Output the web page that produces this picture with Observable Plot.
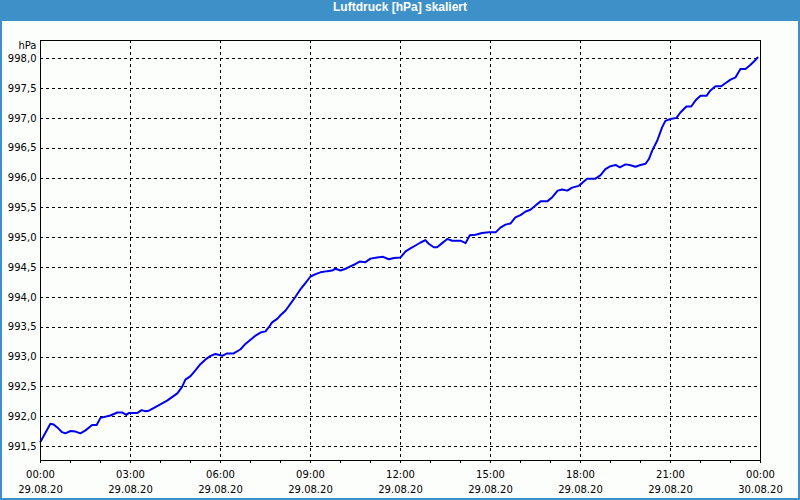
<!DOCTYPE html>
<html>
<head>
<meta charset="utf-8">
<script src="https://cdn.jsdelivr.net/npm/d3@7"></script>
<script src="https://cdn.jsdelivr.net/npm/@observablehq/plot@0.6"></script>
<style>
  html, body { margin: 0; padding: 0; background: #ffffff; }
  #win { width: 800px; height: 500px; box-sizing: border-box; border: 2px solid #3d91c8; border-top: none; background: #fcfefc; overflow: hidden; }
  #title { height: 21px; line-height: 21px; background: #3d91c8; color: #ffffff; text-align: center; font: bold 12px "Liberation Sans", Arial, sans-serif; margin: 0 -2px; }
  #chart svg { display: block; }
</style>
</head>
<body>
<div id="win">
  <div id="title">Luftdruck [hPa] skaliert</div>
  <div id="chart"></div>
</div>
<script>
// hours since 29.08.20 00:00
const hours = [0.00,0.33,0.44,0.56,0.72,0.83,1.00,1.17,1.33,1.50,1.72,1.87,2.00,2.33,2.56,2.72,2.86,2.94,3.22,3.37,3.50,3.61,3.83,4.22,4.56,4.72,4.83,5.00,5.17,5.33,5.50,5.67,5.83,6.06,6.22,6.44,6.67,6.83,7.00,7.17,7.33,7.50,7.61,7.72,7.89,8.00,8.17,8.33,8.50,8.67,8.83,9.00,9.17,9.33,9.56,9.72,9.83,10.00,10.17,10.33,10.50,10.64,10.83,11.00,11.22,11.42,11.61,11.78,12.00,12.17,12.33,12.50,12.67,12.83,12.94,13.11,13.22,13.39,13.56,13.72,14.00,14.17,14.31,14.50,14.72,14.94,15.17,15.33,15.50,15.67,15.83,16.00,16.17,16.33,16.50,16.67,16.89,17.06,17.24,17.39,17.56,17.72,17.94,18.06,18.22,18.50,18.67,18.83,19.00,19.17,19.31,19.50,19.64,19.83,20.00,20.17,20.28,20.39,20.56,20.72,20.83,21.00,21.20,21.33,21.53,21.69,21.83,22.00,22.20,22.33,22.50,22.69,22.83,23.00,23.17,23.33,23.50,23.67,23.83,23.90];
const hPa = [991.58,991.88,991.87,991.82,991.74,991.72,991.76,991.75,991.72,991.77,991.86,991.86,991.98,992.02,992.07,992.07,992.03,992.06,992.06,992.11,992.09,992.10,992.16,992.27,992.39,992.50,992.62,992.68,992.78,992.88,992.96,993.02,993.05,993.02,993.06,993.06,993.13,993.22,993.29,993.36,993.41,993.43,993.50,993.58,993.64,993.70,993.78,993.89,994.01,994.14,994.24,994.35,994.39,994.42,994.44,994.45,994.48,994.45,994.48,994.52,994.56,994.60,994.59,994.65,994.67,994.68,994.64,994.66,994.67,994.77,994.82,994.87,994.92,994.96,994.90,994.84,994.84,994.91,994.98,994.95,994.95,994.91,995.04,995.05,995.08,995.09,995.09,995.17,995.22,995.24,995.34,995.38,995.44,995.47,995.54,995.61,995.61,995.68,995.79,995.81,995.79,995.84,995.87,995.92,995.99,995.99,996.05,996.15,996.20,996.22,996.18,996.23,996.22,996.19,996.22,996.24,996.32,996.46,996.63,996.85,996.96,996.99,997.01,997.10,997.20,997.20,997.30,997.38,997.38,997.47,997.54,997.54,997.59,997.65,997.69,997.83,997.83,997.90,997.98,998.02];
const yTicks = [991.5,992.0,992.5,993.0,993.5,994.0,994.5,995.0,995.5,996.0,996.5,997.0,997.5,998.0];
const yDomain = [991.265, 998.307];
const yUnit = "hPa";
const majorHours = [0,3,6,9,12,15,18,21,24];
const minorHours = [0,1,2,3,4,5,6,7,8,9,10,11,12,13,14,15,16,17,18,19,20,21,22,23,24];

const t0 = Date.UTC(2020, 7, 29, 0, 0);
const toDate = h => new Date(t0 + h * 3600000);
const data = hours.map((h, i) => ({t: toDate(h), v: hPa[i]}));
const majorDates = majorHours.map(toDate);
const minorDates = minorHours.map(toDate);
const fmtTime = d3.utcFormat("%H:%M");
const fmtDate = d3.utcFormat("%d.%m.%y");

const plot = Plot.plot({
  width: 796,
  height: 477,
  marginLeft: 38,
  marginRight: 38,
  marginTop: 19,
  marginBottom: 38,
  style: {fontFamily: "'DejaVu Sans', sans-serif", fontSize: "10px", color: "#000", background: "transparent"},
  x: {type: "utc", domain: [toDate(0), toDate(24)]},
  y: {domain: yDomain},
  marks: [
    Plot.gridY(yTicks, {stroke: "#000", strokeOpacity: 1, strokeDasharray: "3,3", shapeRendering: "crispEdges"}),
    Plot.gridX(majorDates.slice(1, -1), {stroke: "#000", strokeOpacity: 1, strokeDasharray: "3,3", shapeRendering: "crispEdges"}),
    Plot.axisY(yTicks, {tickSize: 0, tickPadding: 4, tickFormat: d => d.toFixed(1).replace(".", ","), label: null}),
    Plot.axisX(minorDates, {tickSize: 3, tickFormat: () => "", label: null}),
    Plot.axisX(majorDates, {tickSize: 0, tickPadding: 10, tickFormat: fmtTime, label: null}),
    Plot.axisX(majorDates, {tickSize: 0, tickPadding: 25, tickFormat: fmtDate, label: null}),
    Plot.text([yUnit], {frameAnchor: "top-left", textAnchor: "end", lineAnchor: "middle", dx: -4, dy: 5}),
    Plot.lineY(data, {x: "t", y: "v", stroke: "#0000ee", strokeWidth: 2}),
    Plot.frame({stroke: "#000", shapeRendering: "crispEdges"})
  ]
});
document.getElementById("chart").appendChild(plot);
</script>
</body>
</html>
